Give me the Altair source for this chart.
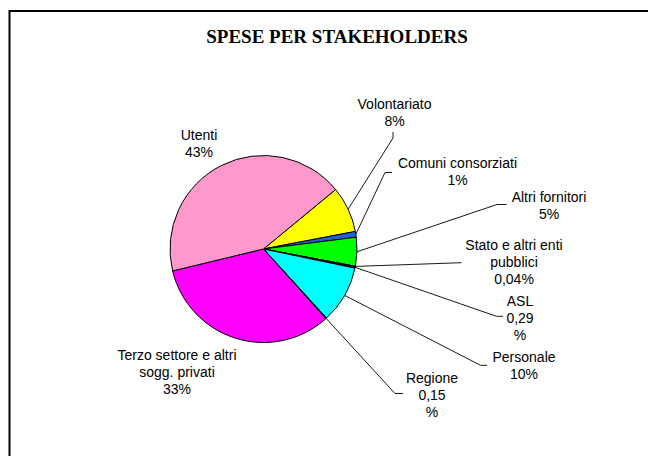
import math
import altair as alt
import pandas as pd

# ---- data ----
categories = ["Volontariato", "Comuni consorziati", "Altri fornitori",
              "Stato e altri enti pubblici", "ASL", "Personale", "Regione",
              "Terzo settore e altri sogg. privati", "Utenti"]
values = [8, 1, 5, 0.04, 0.29, 10, 0.15, 33, 43]
pct_labels = ["8%", "1%", "5%", "0,04%", "0,29%", "10%", "0,15%", "33%", "43%"]
title_text = "SPESE PER STAKEHOLDERS"

# ---- styles / layout ----
colors = ["#FFFF00", "#2064D2", "#00FF00", "#993366", "#000080",
          "#00FFFF", "#800000", "#FF00FF", "#FF99CC"]
# how the label text wraps in the picture
name_lines = {
    "Stato e altri enti pubblici": ["Stato e altri enti", "pubblici"],
    "Terzo settore e altri sogg. privati": ["Terzo settore e altri", "sogg. privati"],
}
split_pct = {"ASL", "Regione"}  # "0,29" / "%" on two lines

W, H = 640, 448
CX, CY, R = 255.5, 241.0, 93.5       # pie centre and radius (chart px)
START_DEG = 50.5                      # angle of first slice edge (clockwise from 12 o'clock)
LH = 17                               # label line height
# label anchor: centre x, first baseline (chart px)
label_pos = [(386.5, 100.5), (449.5, 160.3), (541, 193.7), (506, 242),
             (512, 297.5), (516, 353.7), (424, 375), (169, 352), (191, 132)]
# leader line elbows after the start point on the pie edge (chart px)
leaders = {
    "Volontariato": [(385, 130), (385, 124)],
    "Comuni consorziati": [(377, 164.5), (384, 164.5)],
    "Altri fornitori": [(489, 196.5), (498.5, 196.5)],
    "Stato e altri enti pubblici": [(453.5, 254.7)],
    "ASL": [(488.5, 308.3), (495, 308.3)],
    "Personale": [(472.5, 357.3), (479, 357.3)],
    "Regione": [(387, 385.5), (395, 385.5)],
}

total = sum(values)
start = math.radians(START_DEG)

pie_df = pd.DataFrame({
    "cat": categories, "value": values, "color": colors,
    "idx": list(range(len(categories))),
})

# labels
lab_rows = []
for i, c in enumerate(categories):
    lines = list(name_lines.get(c, [c]))
    p = pct_labels[i]
    if c in split_pct:
        lines += [p[:-1], "%"]
    else:
        lines += [p]
    lab_rows.append({"cat": c, "txt": "\n".join(lines),
                     "px": label_pos[i][0], "py": label_pos[i][1]})
lab_df = pd.DataFrame(lab_rows)

# leader segments: start at slice mid-angle on the pie edge
seg_rows = []
cum = 0.0
for i, c in enumerate(categories):
    mid = start + 2 * math.pi * (cum + values[i] / 2) / total
    cum += values[i]
    if c not in leaders:
        continue
    pts = [(CX + R * math.sin(mid), CY - R * math.cos(mid))] + leaders[c]
    for a, b in zip(pts[:-1], pts[1:]):
        seg_rows.append({"x": a[0], "y": a[1], "x2": b[0], "y2": b[1]})
seg_df = pd.DataFrame(seg_rows)

pie = alt.Chart(pie_df).mark_arc(outerRadius=R, stroke="black", strokeWidth=1).encode(
    theta=alt.Theta("value:Q", stack=True,
                    scale=alt.Scale(domain=[0, total], range=[start, start + 2 * math.pi],
                                    nice=False, zero=True)),
    color=alt.Color("color:N", scale=None, legend=None),
    order=alt.Order("idx:Q"),
    x=alt.value(CX), y=alt.value(CY),
)

segs = alt.Chart(seg_df).mark_rule(color="black", strokeWidth=0.9).encode(
    x=alt.X("x:Q", scale=None, axis=None), y=alt.Y("y:Q", scale=None, axis=None),
    x2="x2:Q", y2="y2:Q",
)

labels = alt.Chart(lab_df).mark_text(
    font="Liberation Sans", fontSize=14, align="center", baseline="alphabetic",
    lineBreak="\n", lineHeight=LH, color="black",
).encode(
    x=alt.X("px:Q", scale=None, axis=None), y=alt.Y("py:Q", scale=None, axis=None),
    text="txt:N",
)

title_df = pd.DataFrame({"t": [title_text], "px": [329.0], "py": [34.5]})
title = alt.Chart(title_df).mark_text(
    font="Liberation Serif", fontSize=19, fontWeight="bold", align="center",
    baseline="alphabetic", color="black",
).encode(
    x=alt.X("px:Q", scale=None, axis=None), y=alt.Y("py:Q", scale=None, axis=None),
    text="t:N",
)

# chart-area border: only its left and top edges fall inside the picture
frame_df = pd.DataFrame({"x": [1.5], "y": [3.0], "x2": [W + 60.0], "y2": [H + 60.0]})
frame = alt.Chart(frame_df).mark_rect(fill="white", stroke="black", strokeWidth=2).encode(
    x=alt.X("x:Q", scale=None, axis=None), y=alt.Y("y:Q", scale=None, axis=None),
    x2="x2:Q", y2="y2:Q",
)

chart = alt.layer(frame, pie, segs, labels, title).properties(
    width=W, height=H, padding=0, background="white",
    autosize=alt.AutoSizeParams(type="none"),
).configure_view(stroke="white", strokeWidth=0, strokeOpacity=0)

chart.save("out.html", embed_options={"renderer": "svg", "actions": False})
